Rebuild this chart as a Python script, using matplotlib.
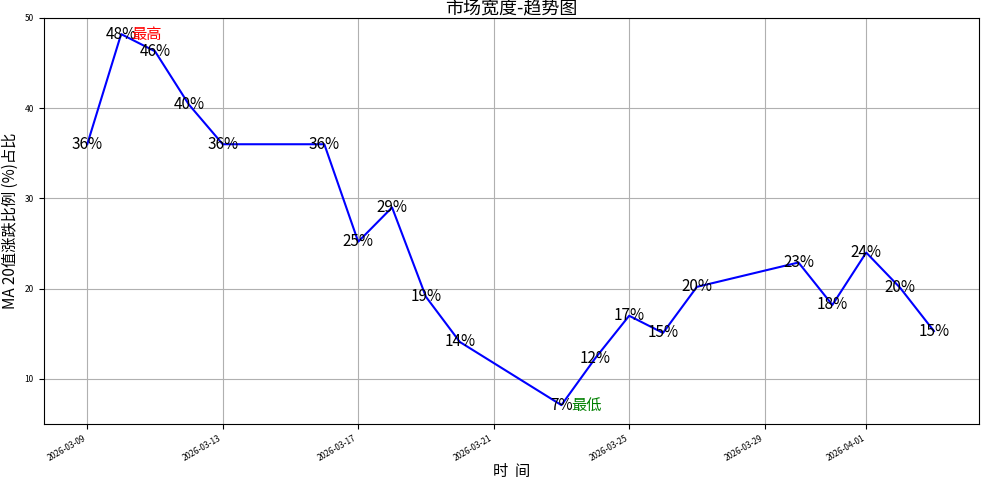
import pandas as pd
import matplotlib
matplotlib.use("Agg")
import matplotlib.pyplot as plt
import matplotlib.dates as mdates
import matplotlib.ticker as mticker

plt.rcParams['font.family'] = ['Noto Sans CJK SC', 'DejaVu Sans']
plt.rcParams['axes.unicode_minus'] = False

dates = ["2026-03-09", "2026-03-10", "2026-03-11", "2026-03-12", "2026-03-13",
         "2026-03-16", "2026-03-17", "2026-03-18", "2026-03-19", "2026-03-20",
         "2026-03-23", "2026-03-24", "2026-03-25", "2026-03-26", "2026-03-27",
         "2026-03-30", "2026-03-31", "2026-04-01", "2026-04-02", "2026-04-03"]
values = [36.0, 48.2, 46.3, 40.4, 36.0,
          36.0, 25.2, 29.0, 19.1, 14.1,
          7.1, 12.3, 17.0, 15.1, 20.2,
          22.9, 18.2, 24.0, 20.1, 15.3]

x = pd.to_datetime(dates)

fig, ax = plt.subplots(figsize=(9.89, 4.83), dpi=100)
fig.subplots_adjust(left=0.044, right=0.99, top=0.963, bottom=0.122)

ax.plot(x, values, color='blue', linewidth=1.5)
for d, v in zip(x, values):
    ax.text(d, v, f"{v:.0f}%", fontsize=11, ha='center', va='center')

imax = values.index(max(values))
imin = values.index(min(values))
ax.text(x[imax] + pd.Timedelta(hours=7), values[imax], "最高", color='red',
        fontsize=11, va='center', ha='left')
ax.text(x[imin] + pd.Timedelta(hours=7), values[imin], "最低", color='green',
        fontsize=11, va='center', ha='left')

ax.set_ylim(5, 50)
ax.yaxis.set_major_locator(mticker.MultipleLocator(10))
ax.set_xlim(pd.Timestamp("2026-03-07 17:00"), pd.Timestamp("2026-04-04 08:00"))
ax.xaxis.set_major_locator(mdates.DayLocator(bymonthday=[1, 9, 13, 17, 21, 25, 29]))
ax.xaxis.set_major_formatter(mdates.DateFormatter('%Y-%m-%d'))
plt.setp(ax.get_xticklabels(), rotation=30, ha='right', fontsize=6)
plt.setp(ax.get_yticklabels(), fontsize=6)
ax.grid(True)

ax.set_title("市场宽度-趋势图", fontsize=13, pad=0)
ax.set_xlabel("时  间", fontsize=11, labelpad=0)
ax.set_ylabel("MA 20值涨跌比例 (%)占比", fontsize=11)

fig.savefig("out.png")
